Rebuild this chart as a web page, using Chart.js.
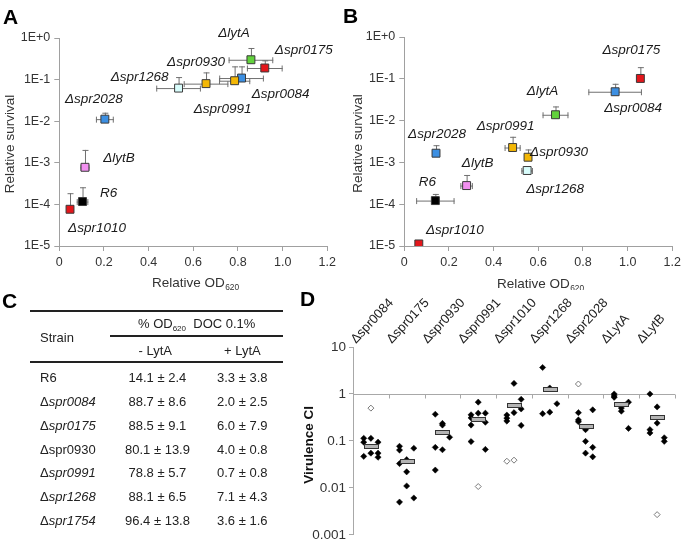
<!DOCTYPE html>
<html>
<head>
<meta charset="utf-8">
<script src="https://cdn.jsdelivr.net/npm/chart.js@4/dist/chart.umd.min.js"></script>
<style>
  html, body { margin: 0; padding: 0; background: #fff; }
  #page { position: relative; width: 685px; height: 546px; overflow: hidden;
          font-family: "Liberation Sans", Arial, sans-serif; color: #222; }
  canvas { position: absolute; }
  .letter { position: absolute; font-weight: bold; font-size: 21px; color: #000; line-height: 1; }
  .rule { position: absolute; background: #222; }
  .cell { position: absolute; font-size: 13px; white-space: nowrap; line-height: 1; }
  .cell i { font-style: italic; }
  sub { font-size: 8px; vertical-align: -3px; }
</style>
</head>
<body>
<div id="page">
  <canvas id="chartA" width="340" height="290" style="left:0;top:0"></canvas>
  <canvas id="chartB" width="345" height="290" style="left:340px;top:0"></canvas>
  <canvas id="chartD" width="385" height="256" style="left:300px;top:290px"></canvas>
  <div class="letter" style="left:3px;top:6px">A</div>
  <div class="letter" style="left:343px;top:5px">B</div>
  <div class="letter" style="left:2px;top:290px">C</div>
  <div class="letter" style="left:300px;top:288px">D</div>
  <div id="table"></div>
</div>

<script>
// ---- data: panels A and B (relative OD620 vs relative survival) ----
const strainsAB = ['ΔlytA', 'Δspr0175', 'Δspr0084', 'Δspr0991', 'Δspr0930',
                   'Δspr1268', 'Δspr2028', 'ΔlytB', 'R6', 'Δspr1010'];

const odA      = [0.858, 0.920, 0.816, 0.785, 0.657, 0.534, 0.204, 0.115, 0.104, 0.048];
const survA    = [0.30, 0.19, 0.109, 0.094, 0.080, 0.0625, 0.0112, 0.00078, 0.000117, 0.0000764];
const odErrA   = [0.10, 0.08, 0.10, 0.07, 0.10, 0.10, 0.04, 0.02, 0.026, 0];
const survUpA  = [0.575, 0.29, 0.208, 0.208, 0.149, 0.115, 0.016, 0.00204, 0.000258, 0.000186];

const odB      = [0.677, 1.057, 0.944, 0.485, 0.554, 0.550, 0.142, 0.279, 0.139, 0.065];
const survB    = [0.0138, 0.102, 0.049, 0.00227, 0.00133, 0.00064, 0.00166, 0.000279, 0.000122, 0.0000112];
const odErrB   = [0.058, 0, 0.12, 0.036, 0.012, 0.026, 0, 0.028, 0.086, 0];
const survUpB  = [0.0218, 0.19, 0.076, 0.0041, 0.00204, 0.00075, 0.00258, 0.0005, 0.000176, 0];

const survTicks = [1e-5, 1e-4, 1e-3, 1e-2, 1e-1, 1];

// ---- data: panel C (table) ----
const tableStrains = ['R6', 'Δspr0084', 'Δspr0175', 'Δspr0930', 'Δspr0991', 'Δspr1268', 'Δspr1754'];
const minusLytMean = [14.1, 88.7, 88.5, 80.1, 78.8, 88.1, 96.4];
const minusLytSd   = [2.4, 8.6, 9.1, 13.9, 5.7, 6.5, 13.8];
const plusLytMean  = [3.3, 2.0, 6.0, 4.0, 0.7, 7.1, 3.6];
const plusLytSd    = [3.8, 2.5, 7.9, 0.8, 0.8, 4.3, 1.6];

// ---- data: panel D (virulence CI), points split into left / middle / right columns ----
const strainsD = ['Δspr0084', 'Δspr0175', 'Δspr0930', 'Δspr0991', 'Δspr1010',
                  'Δspr1268', 'Δspr2028', 'ΔLytA', 'ΔLytB'];
const ciLeft = [
  [0.114, 0.094, 0.047], [0.077, 0.064, 0.033, 0.005], [0.37, 0.073, 0.024],
  [0.36, 0.31, 0.218, 0.097], [0.355, 0.306, 0.265], [3.66, 0.38],
  [0.40, 0.28, 0.256], [1.0, 0.91, 0.85], [1.0, 0.174, 0.148]
];
const ciMid = [
  [0.114, 0.055], [0.040, 0.022, 0.011], [0.236, 0.218, 0.065],
  [0.67, 0.39], [1.68, 0.40], [0.41, 1.34],
  [0.174, 0.098, 0.055], [0.50, 0.43], [0.53, 0.24]
];
const ciRight = [
  [0.094, 0.055, 0.045], [0.070, 0.0061], [0.12],
  [0.39, 0.25, 0.066], [0.77, 0.48, 0.214], [0.62],
  [0.46, 0.073, 0.046], [0.67, 0.185], [0.117, 0.098]
];
const ciOpenLeft = [[], [], [], [], [0.037], [], [1.63], [], []];
const ciOpenMid  = [[0.50], [], [], [0.0107], [0.039], [], [], [], [0.0027]];
const ciMean = [0.077, 0.037, 0.152, 0.30, 0.57, 1.28, 0.204, 0.61, 0.33];
const ciTicks = [0.001, 0.01, 0.1, 1, 10];

// ---- styles ----
const FONT = '"Liberation Sans", Arial, sans-serif';
const strainColor = {
  'ΔlytA': '#62d23c', 'Δspr0175': '#e3161b', 'Δspr0084': '#3c8fe2', 'Δspr0991': '#f3b705',
  'Δspr0930': '#f3b705', 'Δspr1268': '#d8fcfb', 'Δspr2028': '#3c8fe2', 'ΔlytB': '#f290f0',
  'R6': '#000000', 'Δspr1010': '#e3161b'
};
const labelOffsetA = {
  'ΔlytA': [-17, -27], 'Δspr0175': [39, -18], 'Δspr0084': [39, 16], 'Δspr0991': [-12, 29],
  'Δspr0930': [-10, -21], 'Δspr1268': [-39, -11], 'Δspr2028': [-11, -20], 'ΔlytB': [34, -9],
  'R6': [26, -8], 'Δspr1010': [27, 19]
};
const labelOffsetB = {
  'ΔlytA': [-13, -24], 'Δspr0175': [-9, -28], 'Δspr0084': [18, 17], 'Δspr0991': [-7, -21],
  'Δspr0930': [31, -5], 'Δspr1268': [28, 19], 'Δspr2028': [1, -19], 'ΔlytB': [11, -22],
  'R6': [-8, -18], 'Δspr1010': [36, -14]
};
const JITTER = 0.2;

Chart.defaults.font.family = FONT;
Chart.defaults.color = '#333';

function fmtE(v) {
  const k = Math.round(Math.log10(v));
  return k >= 0 ? '1E+' + k : '1E' + k;
}

// "Relative OD" with a small subscript 620
function drawSubTitle(ctx, main, sub, cx, cy, size) {
  ctx.font = `${size}px ${FONT}`;
  const w1 = ctx.measureText(main).width;
  ctx.font = `${size * 0.62}px ${FONT}`;
  const w2 = ctx.measureText(sub).width;
  const x0 = cx - (w1 + w2) / 2;
  ctx.textAlign = 'left';
  ctx.textBaseline = 'middle';
  ctx.font = `${size}px ${FONT}`;
  ctx.fillText(main, x0, cy);
  ctx.font = `${size * 0.62}px ${FONT}`;
  ctx.fillText(sub, x0 + w1 + 0.5, cy + size * 0.35);
}

function survivalChart(canvasId, od, surv, odErr, survUp, offsets, box) {
  const decor = {
    id: 'decor' + canvasId,
    beforeDatasetsDraw(chart) {
      // error bars: horizontal both ways, vertical upwards only
      const { ctx, scales: { x, y } } = chart;
      ctx.save();
      ctx.strokeStyle = '#707070';
      ctx.lineWidth = 1;
      od.forEach((v, i) => {
        const px = x.getPixelForValue(v), py = y.getPixelForValue(surv[i]);
        ctx.beginPath();
        if (odErr[i]) {
          const l = x.getPixelForValue(v - odErr[i]), r = x.getPixelForValue(v + odErr[i]);
          ctx.moveTo(l, py + 0.5); ctx.lineTo(r, py + 0.5);
          ctx.moveTo(l + 0.5, py - 2.5); ctx.lineTo(l + 0.5, py + 3.5);
          ctx.moveTo(r - 0.5, py - 2.5); ctx.lineTo(r - 0.5, py + 3.5);
        }
        if (survUp[i]) {
          const t = y.getPixelForValue(survUp[i]);
          ctx.moveTo(px + 0.5, py); ctx.lineTo(px + 0.5, t);
          ctx.moveTo(px - 2.5, t + 0.5); ctx.lineTo(px + 3.5, t + 0.5);
        }
        ctx.stroke();
      });
      ctx.restore();
    },
    afterDatasetsDraw(chart) {
      const { ctx, chartArea, scales: { x, y } } = chart;
      ctx.save();
      ctx.fillStyle = '#1a1a1a';
      ctx.font = `italic 13.5px ${FONT}`;
      ctx.textAlign = 'center';
      ctx.textBaseline = 'middle';
      strainsAB.forEach((s, i) => {
        const off = offsets[s];
        ctx.fillText(s, x.getPixelForValue(od[i]) + off[0], y.getPixelForValue(surv[i]) + off[1]);
      });
      // axis titles
      ctx.fillStyle = '#333';
      drawSubTitle(ctx, 'Relative OD', '620', (chartArea.left + chartArea.right) / 2 + 2, box.xTitleY, 13.5);
      ctx.translate(box.yTitleX, (chartArea.top + chartArea.bottom) / 2 + 2);
      ctx.rotate(-Math.PI / 2);
      ctx.textAlign = 'center';
      ctx.textBaseline = 'middle';
      ctx.font = `13.5px ${FONT}`;
      ctx.fillText('Relative survival', 0, 0);
      ctx.restore();
    }
  };

  return new Chart(document.getElementById(canvasId), {
    type: 'scatter',
    data: {
      datasets: [{
        data: od.map((v, i) => ({ x: v, y: surv[i] })),
        backgroundColor: strainsAB.map(s => strainColor[s]),
        borderColor: '#3a3a3a',
        borderWidth: 1,
        pointStyle: 'rect',
        pointRadius: 5.6,
        pointHoverRadius: 5.6
      }]
    },
    options: {
      responsive: false,
      devicePixelRatio: 1,
      animation: false,
      events: [],
      layout: { padding: { top: box.top, right: box.right, left: 0, bottom: 0 } },
      plugins: { legend: { display: false }, tooltip: { enabled: false } },
      scales: {
        x: {
          type: 'linear', min: 0, max: 1.2,
          afterFit: s => { s.height = box.xAxisHeight; },
          ticks: { stepSize: 0.2, font: { size: 12.5 }, padding: 4, color: '#333' },
          grid: { drawOnChartArea: false, tickLength: 5, color: '#a0a0a0' },
          border: { color: '#a0a0a0' }
        },
        y: {
          type: 'logarithmic', min: 1e-5, max: 1,
          afterFit: s => { s.width = box.yAxisWidth; },
          afterBuildTicks: s => { s.ticks = survTicks.map(v => ({ value: v })); },
          ticks: { callback: v => fmtE(v), font: { size: 12.5 }, padding: 4, color: '#333' },
          grid: { drawOnChartArea: false, tickLength: 5, color: '#a0a0a0' },
          border: { color: '#a0a0a0' }
        }
      }
    },
    plugins: [decor]
  });
}

survivalChart('chartA', odA, survA, odErrA, survUpA, labelOffsetA,
  { top: 38, right: 11.7, xAxisHeight: 44, yAxisWidth: 59.3, xTitleY: 283, yTitleX: 10 });
survivalChart('chartB', odB, survB, odErrB, survUpB, labelOffsetB,
  { top: 37, right: 10, xAxisHeight: 44, yAxisWidth: 64.3, xTitleY: 284, yTitleX: 18 });

// ---- panel D ----
const filledPts = [];
const openPts = [];
[[ciLeft, -JITTER], [ciMid, 0], [ciRight, JITTER]].forEach(([cols, dx]) => {
  cols.forEach((vals, i) => vals.forEach(v => filledPts.push({ x: i + 1 + dx, y: v })));
});
[[ciOpenLeft, -JITTER], [ciOpenMid, 0]].forEach(([cols, dx]) => {
  cols.forEach((vals, i) => vals.forEach(v => openPts.push({ x: i + 1 + dx, y: v })));
});

const decorD = {
  id: 'decorD',
  beforeDatasetsDraw(chart) {
    // reference line at CI = 1 with category separators
    const { ctx, chartArea, scales: { x, y } } = chart;
    const y1 = Math.round(y.getPixelForValue(1)) + 0.5;
    ctx.save();
    ctx.strokeStyle = '#a8a8a8';
    ctx.lineWidth = 1;
    ctx.beginPath();
    ctx.moveTo(chartArea.left, y1); ctx.lineTo(chartArea.right, y1);
    for (let i = 1; i <= strainsD.length; i++) {
      const bx = Math.round(x.getPixelForValue(i + 0.5)) + 0.5;
      ctx.moveTo(bx, y1); ctx.lineTo(bx, y1 + 4);
    }
    ctx.stroke();
    ctx.restore();
  },
  afterDatasetsDraw(chart) {
    const { ctx, chartArea, scales: { x, y } } = chart;
    ctx.save();
    // mean bars
    ctx.fillStyle = '#b4b4b4';
    ctx.strokeStyle = '#333';
    ctx.lineWidth = 1;
    ciMean.forEach((m, i) => {
      const px = Math.round(x.getPixelForValue(i + 1)), py = Math.round(y.getPixelForValue(m));
      ctx.fillRect(px - 7, py - 2, 14, 4);
      ctx.strokeRect(px - 7 + 0.5, py - 2 + 0.5, 14, 4);
    });
    // rotated category labels above the plot
    ctx.fillStyle = '#222';
    ctx.font = `13px ${FONT}`;
    ctx.textAlign = 'left';
    ctx.textBaseline = 'alphabetic';
    strainsD.forEach((s, i) => {
      ctx.save();
      ctx.translate(x.getPixelForValue(i + 1) - 15, chartArea.top - 3);
      ctx.rotate(-47 * Math.PI / 180);
      ctx.fillText(s, 0, 0);
      ctx.restore();
    });
    // y title
    ctx.translate(9, (chartArea.top + chartArea.bottom) / 2 + 4);
    ctx.rotate(-Math.PI / 2);
    ctx.textAlign = 'center';
    ctx.textBaseline = 'middle';
    ctx.font = `bold 13.5px ${FONT}`;
    ctx.fillStyle = '#111';
    ctx.fillText('Virulence CI', 0, 0);
    ctx.restore();
  }
};

new Chart(document.getElementById('chartD'), {
  type: 'scatter',
  data: {
    datasets: [{
      data: filledPts,
      pointStyle: 'rectRot', pointRadius: 3.1, pointHoverRadius: 3.1,
      backgroundColor: '#000', borderColor: '#000', borderWidth: 0.5
    }, {
      data: openPts,
      pointStyle: 'rectRot', pointRadius: 3, pointHoverRadius: 3,
      backgroundColor: '#fff', borderColor: '#7a7a7a', borderWidth: 1
    }]
  },
  options: {
    responsive: false,
    devicePixelRatio: 1,
    animation: false,
    events: [],
    layout: { padding: { top: 57, right: 10, left: 0, bottom: 9.3 } },
    plugins: { legend: { display: false }, tooltip: { enabled: false } },
    scales: {
      x: { type: 'linear', min: 0.5, max: 9.5, display: false },
      y: {
        type: 'logarithmic', min: 0.001, max: 10,
        afterFit: s => { s.width = 53; },
        afterBuildTicks: s => { s.ticks = ciTicks.map(v => ({ value: v })); },
        ticks: { callback: v => String(v), font: { size: 13.5 }, padding: 3, color: '#333' },
        grid: { drawOnChartArea: false, tickLength: 4, color: '#a8a8a8' },
        border: { color: '#a8a8a8' }
      }
    }
  },
  plugins: [decorD]
});

// ---- panel C: table ----
const tableItalic = [false, true, true, false, true, true, true];
(function buildTable() {
  const host = document.getElementById('table');
  const add = (html, style, cls = 'cell') => {
    const d = document.createElement('div');
    d.className = cls;
    d.style.cssText = style;
    d.innerHTML = html;
    host.appendChild(d);
    return d;
  };
  const center = (html, cx, cy) => {
    const d = add(html, `top:${cy - 6.5}px;left:0`);
    d.style.left = (cx - d.offsetWidth / 2) + 'px';
  };
  add('', 'left:30px;top:310px;width:253px;height:1.5px', 'rule');
  add('', 'left:110px;top:335px;width:173px;height:1.5px', 'rule');
  add('', 'left:30px;top:360.5px;width:253px;height:2px', 'rule');
  add('Strain', 'left:40px;top:330.5px');
  center('% OD<sub>620</sub>&nbsp; DOC 0.1%', 196.5, 323);
  center('- LytA', 155, 350.5);
  center('+ LytA', 242.5, 350.5);
  tableStrains.forEach((s, i) => {
    const cy = 377.3 + i * 23.9;
    const name = tableItalic[i] ? 'Δ<i>' + s.slice(1) + '</i>' : s;
    add(name, `left:40px;top:${cy - 6.5}px`);
    center(`${minusLytMean[i].toFixed(1)} ± ${minusLytSd[i].toFixed(1)}`, 157.5, cy);
    center(`${plusLytMean[i].toFixed(1)} ± ${plusLytSd[i].toFixed(1)}`, 242.5, cy);
  });
})();
</script>
</body>
</html>
